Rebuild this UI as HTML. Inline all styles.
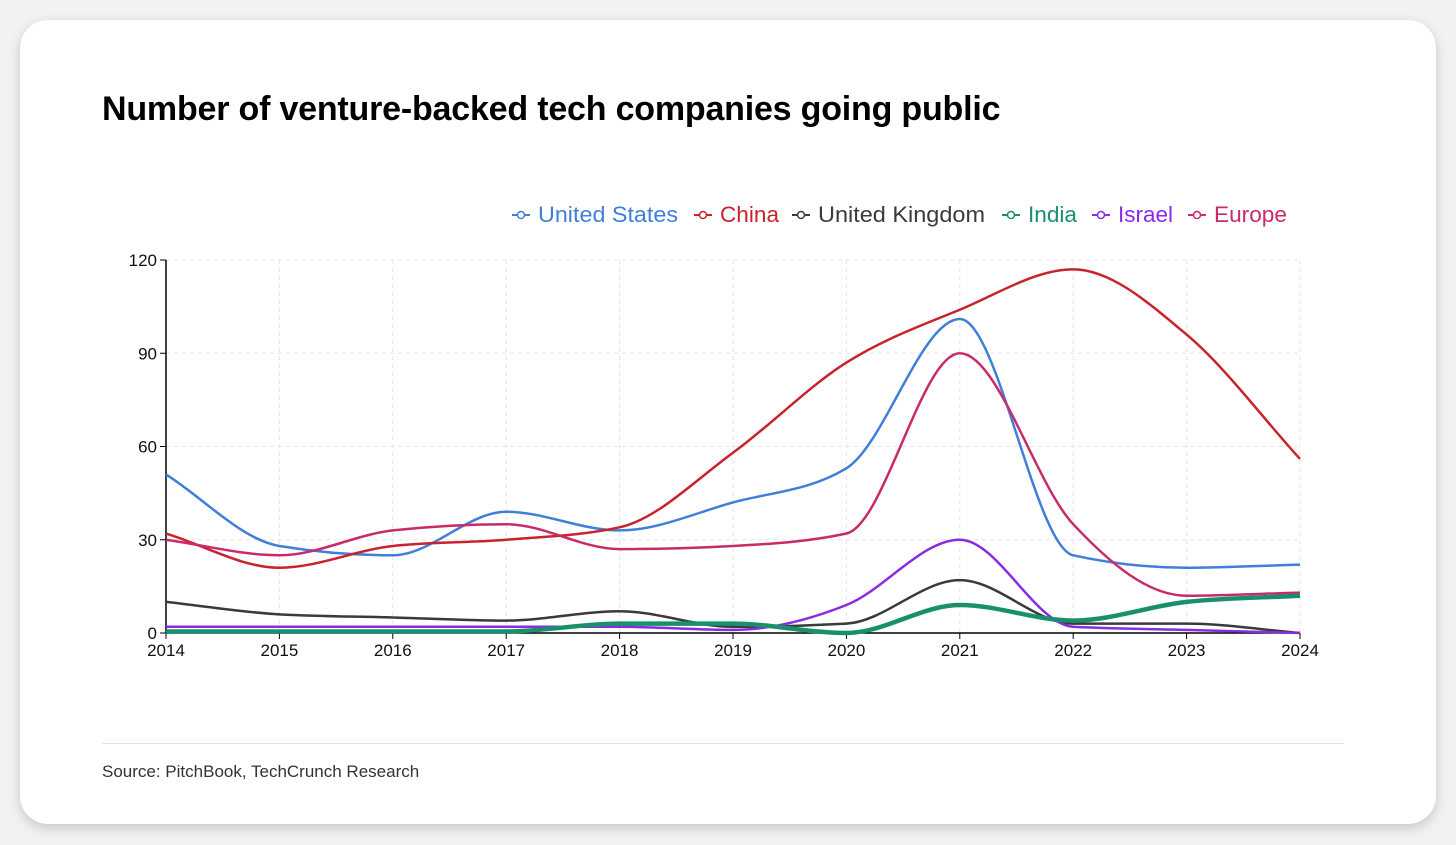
<!DOCTYPE html>
<html><head><meta charset="utf-8">
<style>
body{margin:0;width:1456px;height:845px;background:#f2f2f2;font-family:"Liberation Sans",sans-serif;overflow:hidden}
#card{position:absolute;left:20px;top:20px;width:1416px;height:804px;background:#fff;border-radius:28px;box-shadow:0 4px 12px rgba(0,0,0,0.18)}
#title{position:absolute;left:102px;top:90px;font-size:34px;font-weight:bold;color:#000;letter-spacing:-0.2px;white-space:nowrap}
#src{position:absolute;left:102px;top:762px;font-size:17px;color:#333}
#rule{position:absolute;left:102px;top:743px;width:1242px;height:1px;background:#e2e2e2}
svg{position:absolute;left:0;top:0}
</style></head><body>
<div id="card"></div>
<div id="title">Number of venture-backed tech companies going public</div>
<div id="rule"></div>
<div id="src">Source: PitchBook, TechCrunch Research</div>
<svg id="chart" width="1456" height="845"></svg>
<script>
const years=[2014,2015,2016,2017,2018,2019,2020,2021,2022,2023,2024];
const yTicks=[0,30,60,90,120];
const seriesNames=["United States","China","United Kingdom","India","Israel","Europe"];
const seriesColors=["#3f7fd9","#c8232c","#3a3a3a","#17906b","#8a2be2","#c82a6a"];
const usVals=[51,28,25,39,33,42,53,101,25,21,22];
const chinaVals=[32,21,28,30,34,58,87,104,117,96,56];
const ukVals=[10,6,5,4,7,2,3,17,3,3,0];
const indiaVals=[0.5,0.5,0.5,0.5,3,3,0,9,4,10,12];
const israelVals=[2,2,2,2,2,1,9,30,2,1,0];
const europeVals=[30,25,33,35,27,28,32,90,35,12,13];
const allVals=[usVals,chinaVals,ukVals,indiaVals,israelVals,europeVals];
const widths=[2.5,2.5,2.5,4.5,2.5,2.5];

const svg=document.getElementById('chart');
const NS='http://www.w3.org/2000/svg';
const x0=166,x1=1300,y0=633,y1=260;
const xS=v=>x0+(v-years[0])/(years[years.length-1]-years[0])*(x1-x0);
const yS=v=>y0-v/120*(y0-y1);
function mk(t,a,p){const e=document.createElementNS(NS,t);for(const k in a)e.setAttribute(k,a[k]);(p||svg).appendChild(e);return e;}

const grid=mk('g',{});


yTicks.forEach(t=>{
  if(t>0){const l=mk('line',{x1:x0,x2:x1,y1:yS(t),y2:yS(t),stroke:'#e4e4e4','stroke-dasharray':'4 4'},grid);
  }
  const tk=mk('line',{x1:x0-6,x2:x0,y1:yS(t),y2:yS(t),stroke:'#000'});
  
  const tx=mk('text',{x:x0-9,y:yS(t)+6,'text-anchor':'end','font-size':'17',fill:'#111'});
  tx.textContent=t;
});
years.forEach(yr=>{
  if(yr>years[0]){const l=mk('line',{x1:xS(yr),x2:xS(yr),y1:y1,y2:y0,stroke:'#e4e4e4','stroke-dasharray':'4 4'},grid);
  }
  const tk=mk('line',{x1:xS(yr),x2:xS(yr),y1:y0,y2:y0+6,stroke:'#000'});
  
  const tx=mk('text',{x:xS(yr),y:y0+23,'text-anchor':'middle','font-size':'17',fill:'#111'});
  tx.textContent=yr;
});
const ax=mk('line',{x1:x0,x2:x0,y1:y1,y2:y0,stroke:'#000','stroke-width':1.5});

const bx=mk('line',{x1:x0,x2:x1,y1:y0,y2:y0,stroke:'#000','stroke-width':1.5});


function monotone(px,py){
  const n=px.length,d=[],m=[];
  for(let i=0;i<n-1;i++)d.push((py[i+1]-py[i])/(px[i+1]-px[i]));
  for(let i=0;i<n;i++){
    if(i==0)m.push(d[0]);else if(i==n-1)m.push(d[n-2]);
    else{if(d[i-1]*d[i]<=0)m.push(0);else{const h0=px[i]-px[i-1],h1=px[i+1]-px[i];
      const s=(d[i-1]*h1+d[i]*h0)/(h0+h1);m.push(Math.sign(s)*Math.min(Math.abs(s),2*Math.abs(d[i-1]),2*Math.abs(d[i])));}}
  }
  let p='M'+px[0]+','+py[0];
  for(let i=0;i<n-1;i++){const h=(px[i+1]-px[i])/3;
    p+=' C'+(px[i]+h)+','+(py[i]+m[i]*h)+' '+(px[i+1]-h)+','+(py[i+1]-m[i+1]*h)+' '+px[i+1]+','+py[i+1];}
  return p;
}
const order=[0,1,2,5,4,3];
order.forEach(si=>{
  const px=years.map(xS),py=allVals[si].map(yS);
  const p=mk('path',{d:monotone(px,py),fill:'none',stroke:seriesColors[si],'stroke-width':widths[si]});
  
  
});
// legend
const lx=[512,694,792,1002,1092,1188];
const lw=[140,59,167,49,55,73];
seriesNames.forEach((nm,i)=>{
  const g=mk('g',{});
  
  
  const c=seriesColors[i];
  mk('line',{x1:lx[i],x2:lx[i]+18,y1:215,y2:215,stroke:c,'stroke-width':2},g);
  mk('circle',{cx:lx[i]+9,cy:215,r:3.5,fill:'#fff',stroke:c,'stroke-width':1.5},g);
  const t=mk('text',{x:lx[i]+26,y:222,'font-size':'22',fill:c,textLength:lw[i],lengthAdjust:'spacingAndGlyphs'},g);
  t.textContent=nm;
});
</script>
</body></html>
